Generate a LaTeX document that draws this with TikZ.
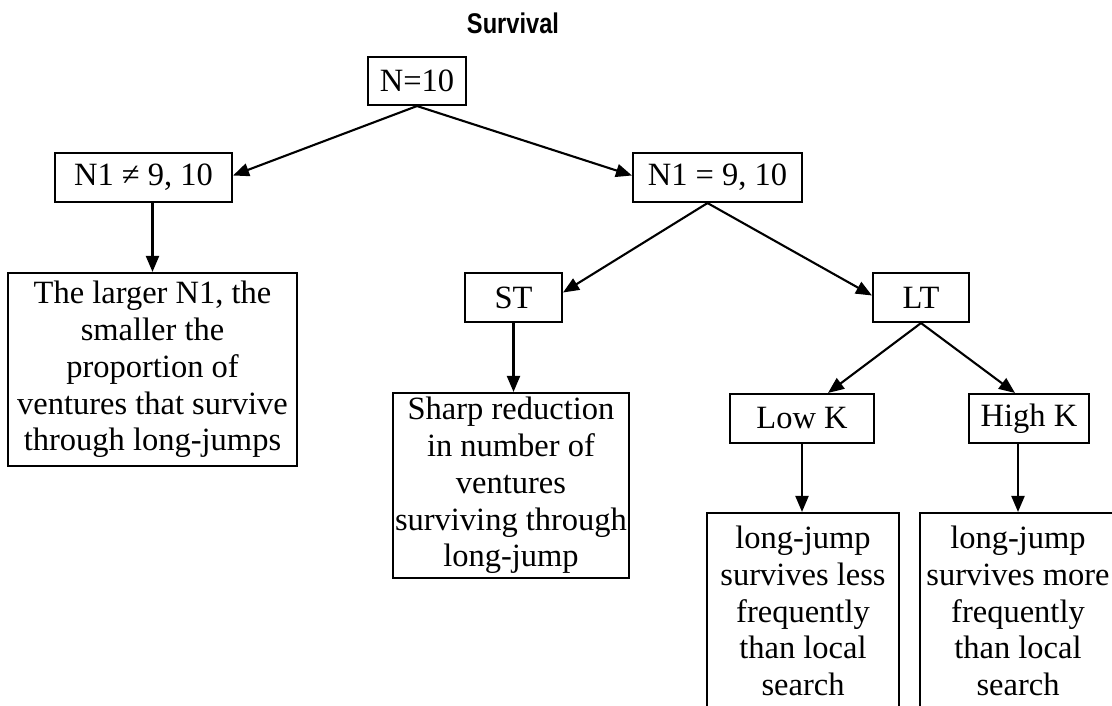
\documentclass[tikz,border=0pt]{standalone}
\usepackage{fontspec}
\setmainfont{Liberation Serif}
\newfontfamily\titlefont{Liberation Sans}
\usetikzlibrary{arrows.meta}
\tikzset{
  box/.style={draw, line width=2.1pt, rectangle, inner sep=0pt, align=center,
    font=\fontsize{32.5}{36.8}\selectfont},
  conn/.style={line width=2.1pt, -{Triangle[length=16pt,width=13pt]}}
}
\begin{document}
\begin{tikzpicture}[x=1pt,y=-1pt]
\useasboundingbox[fill=white] (0,0) rectangle (1112,706);
\node[anchor=base, inner sep=0pt, font=\titlefont\bfseries\fontsize{28.5}{30}\selectfont] (title) at (513,33.3) {\scalebox{0.83}[1]{Survival}};
\node[box, minimum width=98pt, minimum height=48pt] (n10) at (417,81) {N=10};
\node[box, minimum width=177pt, minimum height=49pt] (nne) at (143.5,177.5) {N1 ≠ 9, 10};
\node[box, minimum width=169pt, minimum height=49pt] (neq) at (717.5,177.5) {N1 = 9, 10};
\node[box, minimum width=289pt, minimum height=193pt] (big) at (152.5,369.5) {The larger N1, the\\smaller the\\proportion of\\ventures that survive\\through long-jumps};
\node[box, minimum width=97pt, minimum height=49pt] (st) at (513.5,297.5) {ST};
\node[box, minimum width=96pt, minimum height=49pt] (lt) at (921,297.5) {LT};
\node[box, minimum width=236pt, minimum height=185pt] (sharp) at (511,485.5) {Sharp reduction\\in number of\\ventures\\surviving through\\long-jump};
\node[box, minimum width=144pt, minimum height=49pt] (lowk) at (802,418.5) {Low K};
\node[box, minimum width=120pt, minimum height=49pt] (highk) at (1029,418.5) {High K};
\node[box, minimum width=192pt, minimum height=196pt] (less) at (803,611) {long-jump\\survives less\\frequently\\than local\\search};
\node[box, minimum width=196pt, minimum height=196pt] (more) at (1018,611) {long-jump\\survives more\\frequently\\than local\\search};
\draw[conn] (n10.south) -- ([yshift=2pt]nne.east);
\draw[conn] (n10.south) -- ([yshift=2pt]neq.west);
\draw[conn] (big.north |- nne.south) -- (big.north);
\draw[conn] ([xshift=-10pt]neq.south) -- ([yshift=5pt]st.east);
\draw[conn] ([xshift=-10pt]neq.south) -- ([yshift=2pt]lt.west);
\draw[conn] (st.south) -- (st.south |- sharp.north);
\draw[conn] (lt.south) -- ([xshift=26pt]lowk.north);
\draw[conn] (lt.south) -- ([xshift=-14pt]highk.north);
\draw[conn] (lowk.south) -- (lowk.south |- less.north);
\draw[conn] (more.north |- highk.south) -- (more.north);
\end{tikzpicture}
\end{document}
